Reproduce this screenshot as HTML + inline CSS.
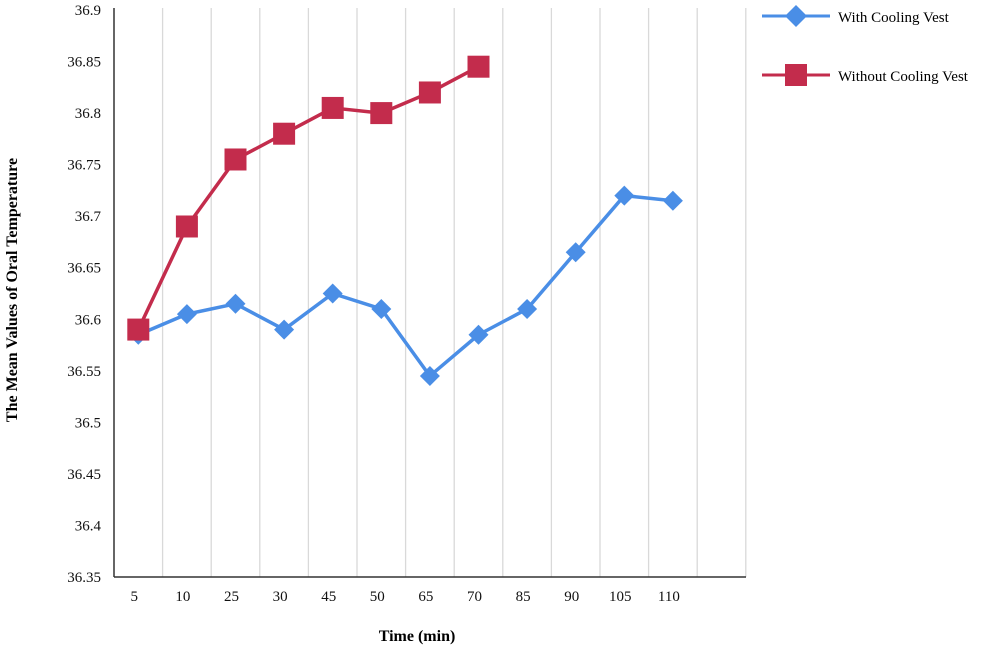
<!DOCTYPE html>
<html><head><meta charset="utf-8"><style>
body{margin:0;background:#fff;}
svg{display:block;font-family:"Liberation Serif",serif;}
</style></head><body>
<svg id="chart" width="1000" height="647" viewBox="0 0 1000 647" xmlns="http://www.w3.org/2000/svg">
<g id="grid"></g>
<g id="yticks"></g>
<g id="xticks"></g>
<line x1="114" y1="8" x2="114" y2="577" stroke="#333" stroke-width="1.5"/>
<line x1="114" y1="577" x2="746" y2="577" stroke="#333" stroke-width="1.5"/>
<g id="series"></g>
<text transform="translate(17,290) rotate(-90)" text-anchor="middle" font-size="16" font-weight="bold">The Mean  Values of Oral Temperature</text>
<text x="417" y="641" text-anchor="middle" font-size="16" font-weight="bold">Time (min)</text>
<g>
  <g>
    <line x1="762" y1="16" x2="830" y2="16" stroke="#4a8ee6" stroke-width="3"/>
    <polygon points="796,5 807,16 796,27 785,16" fill="#4a8ee6"/>
    <text x="838" y="22" font-size="15">With Cooling Vest</text>
  </g>
  <g>
    <line x1="762" y1="75" x2="830" y2="75" stroke="#c32c4c" stroke-width="3"/>
    <rect x="785" y="64" width="22" height="22" fill="#c32c4c"/>
    <text x="838" y="81" font-size="15">Without Cooling Vest</text>
  </g>
</g>
</svg>
<script>
const categories = ["5","10","25","30","45","50","65","70","85","90","105","110"];
const withCooling = [36.585,36.605,36.615,36.59,36.625,36.61,36.545,36.585,36.61,36.665,36.72,36.715];
const withoutCooling = [36.59,36.69,36.755,36.78,36.805,36.8,36.82,36.845];
const yTicks = [36.35,36.4,36.45,36.5,36.55,36.6,36.65,36.7,36.75,36.8,36.85,36.9];

const NS="http://www.w3.org/2000/svg";
const x0=114, band=48.6, nBands=13;
const yMin=36.35,yMax=36.9,yTop=10,yBot=577;
function xPos(i){return x0+band*(i+0.5);}
function yPos(v){return yBot-(v-yMin)/(yMax-yMin)*(yBot-yTop);}
function mk(tag,attrs,parent){const e=document.createElementNS(NS,tag);for(const k in attrs)e.setAttribute(k,attrs[k]);parent.appendChild(e);return e;}

const grid=document.getElementById('grid');
for(let i=1;i<=nBands;i++){
  const gx=x0+band*i;
  const l=mk('line',{x1:gx,y1:8,x2:gx,y2:577,stroke:'#d9d9d9','stroke-width':1.3},grid);
  
  
}
const yt=document.getElementById('yticks');
yTicks.forEach(v=>{
  const t=mk('text',{x:101,y:yPos(v)+5,'text-anchor':'end','font-size':15,fill:'#111'},yt);
  t.textContent=String(v);
  
  
});
const xt=document.getElementById('xticks');
categories.forEach((c,i)=>{
  const t=mk('text',{x:xPos(i)-4,y:601,'text-anchor':'middle','font-size':15,fill:'#111'},xt);
  t.textContent=c;
  
  
});
const s=document.getElementById('series');
function drawSeries(vals,color,shape,name){
  const g=mk('g',{},s);
  
  
  const pts=vals.map((v,i)=>xPos(i)+','+yPos(v)).join(' ');
  const pl=mk('polyline',{points:pts,fill:'none',stroke:color,'stroke-width':3.5,'stroke-linejoin':'round'},g);
  
  
  vals.forEach((v,i)=>{
    const cx=xPos(i),cy=yPos(v);
    let m;
    if(shape==='diamond'){
      m=mk('polygon',{points:`${cx},${cy-10} ${cx+10},${cy} ${cx},${cy+10} ${cx-10},${cy}`,fill:color},g);
    }else{
      m=mk('rect',{x:cx-11,y:cy-11,width:22,height:22,fill:color},g);
    }
    
    
  });
}
drawSeries(withCooling,'#4a8ee6','diamond','with-cooling-series');
drawSeries(withoutCooling,'#c32c4c','square','without-cooling-series');
</script>
</body></html>
